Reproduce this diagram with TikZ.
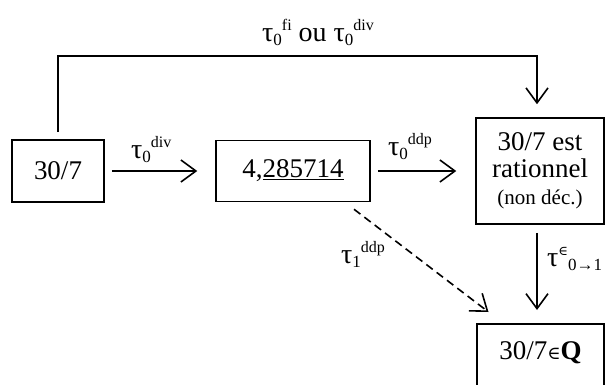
\documentclass[tikz,border=0pt]{standalone}
\usepackage{fontspec}
\setmainfont{Liberation Serif}
\newfontfamily\symf{DejaVu Serif}
\usetikzlibrary{arrows.meta}
\newcommand\tlab[2]{τ\raisebox{-4pt}{\fontsize{17}{17}\selectfont #1}\raisebox{11pt}{\fontsize{16}{16}\selectfont #2}}
\begin{document}
\begin{tikzpicture}[x=1pt,y=-1pt,
  box/.style={draw, line width=1.5pt, inner sep=0pt, font=\fontsize{27}{27}\selectfont},
  conn/.style={line width=1.6pt, -{Straight Barb[length=15pt,width=22pt,line width=1.6pt]}},
  dconn/.style={conn, dash pattern=on 8pt off 5pt},
  lab/.style={font=\fontsize{28}{28}\selectfont, inner sep=0pt}]
\useasboundingbox (0,0) rectangle (605,385);
\clip (0,0) rectangle (605,385);
\node[box, minimum width=92pt, minimum height=62pt] (A) at (58,171) {30/7};
\node[box, minimum width=154pt, minimum height=61pt] (B) at (293,171) {4,\underline{285714}};
\node[box, minimum width=128pt, minimum height=106pt, align=center] (C) at (540,171)
  {30/7 est\\rationnel\\[0pt]{\fontsize{21}{26}\selectfont (non déc.)}};
\node[box, anchor=north, minimum width=127pt, text height=36pt, text depth=35pt] (D) at (540.5,323)
  {30/7{\symf\fontsize{18}{18}\selectfont ∈}\textbf{Q}};
% connectors
\draw[conn] ([yshift=7pt]A.north) -- ++(0,-76) -| ([xshift=-3pt,yshift=13pt]C.north);
\draw[conn] ([xshift=7pt]A.east) -- ([xshift=-18pt]B.west);
\draw[conn] ([xshift=7pt]B.east) -- ([xshift=-19pt]C.west);
\draw[dconn] ([shift={(61,7)}]B.south) -- ([xshift=-52pt,yshift=11pt]D.north);
\draw[conn] ([xshift=-3pt,yshift=-8pt]C.south) -- ([xshift=-3.5pt,yshift=13pt]D.north);
% labels
\node[lab, anchor=base west] (ltop) at (262,42) {\tlab{0}{fi} ou \tlab{0}{div}};
\node[lab, anchor=base west] (l1) at (131,158) {\tlab{0}{div}};
\node[lab, anchor=base west] (l2) at (388,156) {\tlab{0}{ddp}};
\node[lab, anchor=base west] (l3) at (341,263) {\tlab{1}{ddp}};
\node[lab, anchor=base west] (l4) at (547,266) {τ\raisebox{11pt}{\symf\fontsize{13}{13}\selectfont ∈}\raisebox{-4pt}{\fontsize{17}{17}\selectfont 0→1}};
\end{tikzpicture}
\end{document}
